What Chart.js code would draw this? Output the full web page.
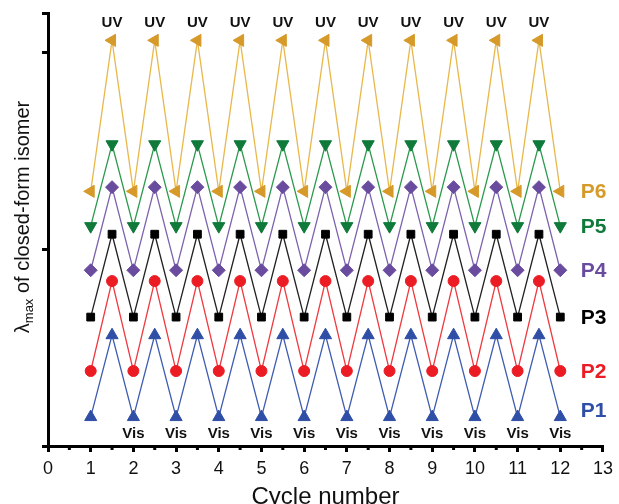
<!DOCTYPE html>
<html>
<head>
<meta charset="utf-8">
<script src="https://cdn.jsdelivr.net/npm/chart.js@4"></script>
<style>
  html, body { margin: 0; padding: 0; background: #fff; }
  #wrap { width: 619px; height: 504px; }
</style>
</head>
<body>
<div id="wrap"><canvas id="c" width="619" height="504"></canvas></div>
<script>
// cycle positions: integers = after Vis, halves = after UV
const cycleX = [1, 1.5, 2, 2.5, 3, 3.5, 4, 4.5, 5, 5.5, 6, 6.5, 7, 7.5, 8, 8.5, 9, 9.5, 10, 10.5, 11, 11.5, 12];

const p1 = [0.147, 0.563, 0.147, 0.563, 0.147, 0.563, 0.147, 0.563, 0.147, 0.563, 0.147, 0.563, 0.147, 0.563, 0.147, 0.563, 0.147, 0.563, 0.147, 0.563, 0.147, 0.563, 0.147];
const p2 = [0.381, 0.838, 0.381, 0.838, 0.381, 0.838, 0.381, 0.838, 0.381, 0.838, 0.381, 0.838, 0.381, 0.838, 0.381, 0.838, 0.381, 0.838, 0.381, 0.838, 0.381, 0.838, 0.381];
const p3 = [0.655, 1.076, 0.655, 1.076, 0.655, 1.076, 0.655, 1.076, 0.655, 1.076, 0.655, 1.076, 0.655, 1.076, 0.655, 1.076, 0.655, 1.076, 0.655, 1.076, 0.655, 1.076, 0.655];
const p4 = [0.893, 1.315, 0.893, 1.315, 0.893, 1.315, 0.893, 1.315, 0.893, 1.315, 0.893, 1.315, 0.893, 1.315, 0.893, 1.315, 0.893, 1.315, 0.893, 1.315, 0.893, 1.315, 0.893];
const p5 = [1.117, 1.533, 1.117, 1.533, 1.117, 1.533, 1.117, 1.533, 1.117, 1.533, 1.117, 1.533, 1.117, 1.533, 1.117, 1.533, 1.117, 1.533, 1.117, 1.533, 1.117, 1.533, 1.117];
const p6 = [1.294, 2.061, 1.294, 2.061, 1.294, 2.061, 1.294, 2.061, 1.294, 2.061, 1.294, 2.061, 1.294, 2.061, 1.294, 2.061, 1.294, 2.061, 1.294, 2.061, 1.294, 2.061, 1.294];

const seriesNames = ['P1', 'P2', 'P3', 'P4', 'P5', 'P6'];
const uvX  = [1.5, 2.5, 3.5, 4.5, 5.5, 6.5, 7.5, 8.5, 9.5, 10.5, 11.5];
const visX = [2, 3, 4, 5, 6, 7, 8, 9, 10, 11, 12];

const styles = [
  { mark: '#2f4ea6', line: '#3f5cb0', shape: 'triangle', rot: 0,   r: 7 },
  { mark: '#ec1c24', line: '#ee3a40', shape: 'circle',   rot: 0,   r: 5.5 },
  { mark: '#000000', line: '#222222', shape: 'rect',     rot: 0,   r: 5.5 },
  { mark: '#6a4c9f', line: '#7d62ae', shape: 'rectRot',  rot: 0,   r: 6.5 },
  { mark: '#0f7a3a', line: '#2c9a4e', shape: 'triangle', rot: 180, r: 7 },
  { mark: '#d69a2a', line: '#e8b84c', shape: 'triangle', rot: 270, r: 7 },
];

const allSeries = [p1, p2, p3, p4, p5, p6];

const datasets = allSeries.map((vals, i) => ({
  label: seriesNames[i],
  data: vals.map((v, k) => ({ x: cycleX[k], y: v })),
  borderColor: styles[i].line,
  borderWidth: 1.3,
  backgroundColor: styles[i].mark,
  pointBackgroundColor: styles[i].mark,
  pointBorderColor: styles[i].mark,
  pointBorderWidth: 1,
  pointStyle: styles[i].shape,
  pointRotation: styles[i].rot,
  pointRadius: styles[i].r,
  tension: 0,
}));

const FONT = '"Liberation Sans", Arial, sans-serif';

const annotate = {
  id: 'annotate',
  afterDraw(chart) {
    const { ctx, scales: { x, y } } = chart;
    ctx.save();

    // minor ticks at half cycles
    ctx.fillStyle = '#000';
    for (let v = 0.5; v < 13; v += 1) {
      const px = x.getPixelForValue(v);
      ctx.fillRect(px - 1.5, y.bottom + 1, 3, 3);
    }

    // UV / Vis labels
    ctx.font = 'bold 15px ' + FONT;
    ctx.textAlign = 'center';
    ctx.textBaseline = 'middle';
    ctx.fillStyle = '#111';
    const top = p6[1];
    uvX.forEach(v => ctx.fillText('UV', x.getPixelForValue(v), y.getPixelForValue(top) - 17));
    visX.forEach(v => ctx.fillText('Vis', x.getPixelForValue(v), y.getPixelForValue(p1[0]) + 17));

    // series labels on the right
    ctx.font = 'bold 21px ' + FONT;
    ctx.textAlign = 'left';
    allSeries.forEach((vals, i) => {
      let yv = vals[vals.length - 1];
      if (i === 0) yv += 0.035;
      ctx.fillStyle = styles[i].mark;
      ctx.fillText(seriesNames[i], x.getPixelForValue(12.48), y.getPixelForValue(yv) + 1);
    });

    // axis titles
    ctx.fillStyle = '#111';
    ctx.font = '24px ' + FONT;
    ctx.textAlign = 'center';
    ctx.textBaseline = 'middle';
    ctx.fillText('Cycle number', (x.left + x.right) / 2, 497);

    ctx.translate(23, 217);
    ctx.rotate(-Math.PI / 2);
    const f1 = '20px ' + FONT;
    const f2 = '13px ' + FONT;
    ctx.font = f1; const wL = ctx.measureText('λ').width;
    ctx.font = f2; const wS = ctx.measureText('max').width;
    ctx.font = f1; const wR = ctx.measureText(' of closed-form isomer').width;
    let cx = -(wL + wS + wR) / 2;
    ctx.textAlign = 'left';
    ctx.font = f1; ctx.fillText('λ', cx, 0); cx += wL;
    ctx.font = f2; ctx.fillText('max', cx, 6); cx += wS;
    ctx.font = f1; ctx.fillText(' of closed-form isomer', cx, 0);
    ctx.restore();
  }
};

new Chart(document.getElementById('c'), {
  type: 'line',
  data: { datasets },
  options: {
    responsive: false,
    animation: false,
    layout: { padding: { top: 13, right: 14, left: 0, bottom: 0 } },
    plugins: { legend: { display: false }, tooltip: { enabled: false } },
    scales: {
      x: {
        type: 'linear',
        min: 0,
        max: 13,
        afterFit: s => { s.height = 58; },
        ticks: { stepSize: 1, color: '#111', padding: 6, font: { size: 18, family: FONT } },
        grid: { drawOnChartArea: false, drawTicks: true, tickLength: 6, color: '#000', lineWidth: 3 },
        border: { display: true, color: '#000', width: 3 },
      },
      y: {
        min: 0,
        max: 2.2,
        afterFit: s => { s.width = 48; },
        ticks: { stepSize: 1, callback: () => '' },
        grid: { drawOnChartArea: false, drawTicks: true, tickLength: 6, color: '#000', lineWidth: 3 },
        border: { display: true, color: '#000', width: 3 },
      },
    },
  },
  plugins: [annotate],
});
</script>
</body>
</html>
